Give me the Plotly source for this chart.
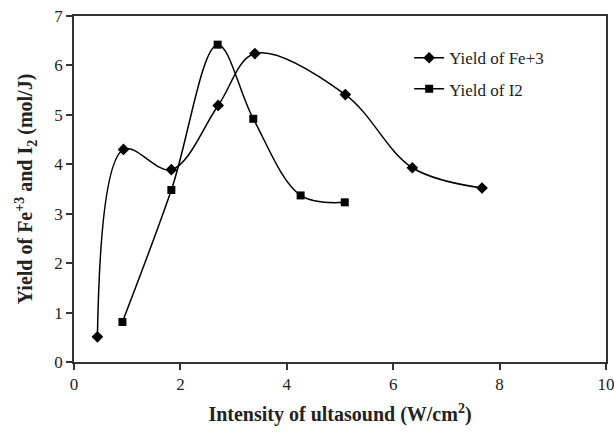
import plotly.graph_objects as go

fe_x = [0.44, 0.93, 1.83, 2.71, 3.40, 5.10, 6.36, 7.67]
fe_y = [0.51, 4.30, 3.89, 5.19, 6.24, 5.41, 3.93, 3.52]
i2_x = [0.91, 1.83, 2.70, 3.37, 4.26, 5.09]
i2_y = [0.81, 3.48, 6.42, 4.92, 3.37, 3.23]

x_ticks = [0, 2, 4, 6, 8, 10]
y_ticks = [0, 1, 2, 3, 4, 5, 6, 7]

font = "Liberation Serif, Times New Roman, serif"

fig = go.Figure()
fig.add_trace(go.Scatter(
    x=fe_x, y=fe_y, mode="lines+markers", name="Yield of Fe+3",
    line=dict(color="black", width=1.5, shape="spline", smoothing=1.0),
    marker=dict(symbol="diamond", size=9, color="black"),
    legendgroup="a",
))
fig.add_trace(go.Scatter(
    x=i2_x, y=i2_y, mode="lines+markers", name="Yield of I2",
    line=dict(color="black", width=1.5, shape="spline", smoothing=1.0),
    marker=dict(symbol="square", size=8, color="black"),
    legendgroup="b",
))

axis_common = dict(
    showgrid=False, zeroline=False, showline=True, linecolor="#333333",
    linewidth=1.5, mirror=True, ticks="outside", ticklen=6, tickwidth=1.5,
    tickcolor="#333333", tickfont=dict(family=font, size=17, color="#222222"),
    automargin=False, ticklabeloverflow="allow",
)

fig.update_layout(
    width=614, height=432,
    margin=dict(l=74, r=8, t=16, b=70),
    paper_bgcolor="white", plot_bgcolor="white",
    font=dict(family=font, color="black"),
    showlegend=True,
    legend=dict(x=0.63, y=0.93, xanchor="left", yanchor="top",
                font=dict(family=font, size=17, color="#222222"),
                bgcolor="rgba(0,0,0,0)", tracegroupgap=6),
    xaxis=dict(range=[0, 10], tickvals=x_ticks, **axis_common,
               title=dict(text="<b>Intensity of ultasound (W/cm<sup>2</sup>)</b>",
                          font=dict(family=font, size=20, color="#222222"), standoff=14)),
    yaxis=dict(range=[0, 7], tickvals=y_ticks, **axis_common,
               title=dict(text="<b>Yield of Fe<sup>+3</sup> and I<sub>2</sub> (mol/J)</b>",
                          font=dict(family=font, size=20, color="#222222"), standoff=16)),
)

fig.write_html("out.html")
